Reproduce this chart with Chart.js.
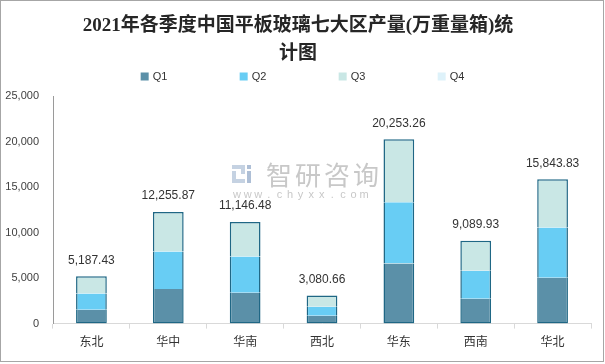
<!DOCTYPE html>
<html>
<head>
<meta charset="utf-8">
<script src="https://cdn.jsdelivr.net/npm/chart.js@4/dist/chart.umd.min.js"></script>
<style>
  html, body { margin: 0; padding: 0; background: #fff; }
  #wrap { position: relative; width: 605px; height: 364px; }
  #frame { position: absolute; left: 0; top: 0; width: 604px; height: 362px;
           box-sizing: border-box; border: 1px solid #a6a6a6; pointer-events: none; }
</style>
</head>
<body>
<div id="wrap">
  <canvas id="c" width="605" height="364"></canvas>
  <div id="frame"></div>
</div>
<script>
// Regions and quarterly output (10k weight cases)
const regions = ['东北', '华中', '华南', '西北', '华东', '西南', '华北'];
const seriesNames = ['Q1', 'Q2', 'Q3', 'Q4'];
const q1 = [1512, 3797, 3389, 850, 6589, 2726, 5044];
const q2 = [1799, 4117, 3973, 993, 6733, 3091, 5519];
const q3 = [1876.43, 4341.87, 3784.48, 1237.66, 6931.26, 3272.93, 5280.83];
const q4 = [0, 0, 0, 0, 0, 0, 0];
const yTicks = [0, 5000, 10000, 15000, 20000, 25000];

const titleLines = ['2021年各季度中国平板玻璃七大区产量(万重量箱)统', '计图'];
const colors = ['#5b90a8', '#68cdf4', '#c9e7e5', '#def2fa'];
const outline = '#1f6785';

const totals = regions.map((_, i) => Math.round((q1[i] + q2[i] + q3[i] + q4[i]) * 100) / 100);
const fmt2 = v => v.toLocaleString('en-US', { minimumFractionDigits: 2, maximumFractionDigits: 2 });

Chart.defaults.font.family = "'Liberation Sans', 'Noto Sans CJK SC', sans-serif";
Chart.defaults.color = '#404040';

const bw = 1.5;
const datasets = [
  { label: seriesNames[0], data: q1, backgroundColor: colors[0], borderColor: outline,
    borderWidth: { left: bw, right: bw, bottom: bw, top: 0 } },
  { label: seriesNames[1], data: q2, backgroundColor: colors[1], borderColor: outline,
    borderWidth: { left: bw, right: bw, bottom: 0, top: 0 } },
  { label: seriesNames[2], data: q3, backgroundColor: colors[2], borderColor: outline,
    borderWidth: { left: bw, right: bw, bottom: 0, top: bw } },
  { label: seriesNames[3], data: q4, backgroundColor: colors[3], borderColor: outline,
    borderWidth: 0 }
].map(d => Object.assign(d, { borderSkipped: false, categoryPercentage: 1, barPercentage: 0.4 }));

const decor = {
  id: 'decor',
  beforeDatasetsDraw(chart) {
    // site watermark
    const ctx = chart.ctx;
    ctx.save();
    ctx.fillStyle = '#c5d2e2';
    ctx.fillRect(232, 165, 13, 4);
    ctx.fillRect(241, 165, 4, 9);
    ctx.fillRect(232, 171, 4, 12);
    ctx.fillRect(232, 179, 13, 4);
    ctx.fillStyle = '#aebfd6';
    ctx.fillRect(247, 165, 4, 4);
    ctx.fillRect(247, 171, 4, 12);
    ctx.fillStyle = '#c8c8c8';
    ctx.textBaseline = 'middle';
    ctx.textAlign = 'center';
    ctx.font = "26px 'Noto Sans CJK SC'";
    const big = '智研咨询';
    for (let i = 0; i < big.length; i++) ctx.fillText(big[i], 279 + i * 29, 175);
    ctx.font = "11px 'Liberation Sans'";
    const small = 'www.chyxx.com';
    for (let i = 0; i < small.length; i++) ctx.fillText(small[i], 237 + i * 10.6, 195);
    ctx.restore();
  },
  afterDatasetsDraw(chart) {
    // stack totals above each bar
    const ctx = chart.ctx;
    const y = chart.scales.y, x = chart.scales.x;
    ctx.save();
    ctx.font = "12px 'Liberation Sans'";
    ctx.fillStyle = '#333';
    ctx.textAlign = 'center';
    ctx.textBaseline = 'middle';
    totals.forEach((t, i) => {
      ctx.fillText(fmt2(t), x.getPixelForValue(i), y.getPixelForValue(t) - 16);
    });
    ctx.restore();
  },
  afterDraw(chart) {
    // legend row
    const ctx = chart.ctx;
    ctx.save();
    ctx.font = "11px 'Liberation Sans'";
    ctx.textBaseline = 'middle';
    ctx.textAlign = 'left';
    const step = 99, box = 8, cy = 76.5;
    const n = chart.data.datasets.length;
    const lastW = box + 4 + ctx.measureText(chart.data.datasets[n - 1].label).width;
    const x0 = chart.width / 2 - ((n - 1) * step + lastW) / 2;
    chart.data.datasets.forEach((d, i) => {
      const bx = x0 + i * step;
      ctx.fillStyle = d.backgroundColor;
      ctx.fillRect(bx, cy - box / 2, box, box);
      ctx.fillStyle = '#333';
      ctx.fillText(d.label, bx + box + 4, cy + 0.5);
    });
    ctx.restore();
  }
};

new Chart(document.getElementById('c'), {
  type: 'bar',
  data: { labels: regions, datasets },
  options: {
    responsive: false,
    animation: false,
    devicePixelRatio: 1,
    layout: { padding: { left: 5, right: 14, top: 0, bottom: 9 } },
    plugins: {
      legend: { display: false },
      tooltip: { enabled: false },
      title: {
        display: true,
        text: titleLines,
        color: '#262626',
        font: { size: 19, weight: 'bold', family: "'Liberation Serif', 'Noto Sans CJK SC', serif", lineHeight: '28px' },
        padding: { top: 12, bottom: 28 }
      }
    },
    scales: {
      x: {
        stacked: true,
        grid: { display: true, drawOnChartArea: false, offset: true, tickLength: 5, color: '#d9d9d9' },
        border: { display: true, color: '#d9d9d9', width: 1 },
        ticks: { padding: 6, color: '#333', font: { size: 12, family: "'Noto Sans CJK SC', sans-serif" } }
      },
      y: {
        stacked: true,
        min: yTicks[0],
        max: yTicks[yTicks.length - 1],
        afterBuildTicks: s => { s.ticks = yTicks.map(v => ({ value: v })); },
        afterFit: s => { s.width = 48; },
        grid: { display: false, drawTicks: false },
        border: { display: true, color: '#9a9a9a', width: 1 },
        ticks: { padding: 14, color: '#404040', font: { size: 11 } }
      }
    }
  },
  plugins: [decor]
});
</script>
</body>
</html>
